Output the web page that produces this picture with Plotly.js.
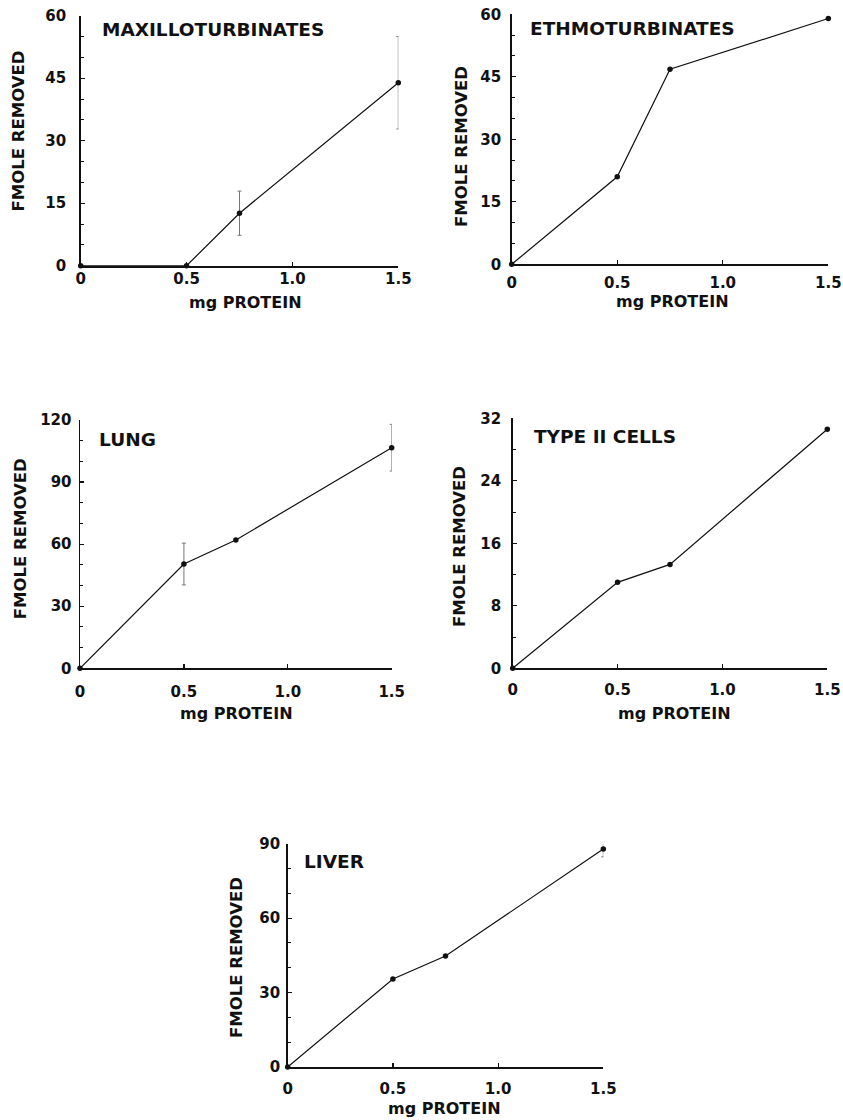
<!DOCTYPE html>
<html>
<head>
<meta charset="utf-8">
<script src="https://cdn.plot.ly/plotly-3.0.1.min.js"></script>
<style>html,body{margin:0;padding:0;background:#fff;}#chart{width:843px;height:1120px;}</style>
</head>
<body>
<div id="chart"></div>
<script>
// ---- data ----
const proteinMg = [0, 0.5, 0.75, 1.5];
const xTickVals = [0, 0.5, 1.0, 1.5];
const xTickText = ['0', '0.5', '1.0', '1.5'];

const panelNames = ['MAXILLOTURBINATES', 'ETHMOTURBINATES', 'LUNG', 'TYPE II CELLS', 'LIVER'];

const maxilloY   = [0, 0, 12.6, 43.9];
const maxilloErr = [0, 0, 5.3, 11.1];
const ethmoY     = [0, 21.0, 46.8, 59.0];
const ethmoErr   = [0, 0, 0, 0];
const lungY      = [0, 50.4, 62.0, 106.6];
const lungErr    = [0, 10.1, 0, 11.3];
const typeIIY    = [0, 11.0, 13.3, 30.6];
const typeIIErr  = [0, 0, 0, 0];
const liverY     = [0, 35.5, 44.7, 87.9];
const liverErr   = [0, 0, 0, 3.2];

const maxilloTicks = [0, 15, 30, 45, 60];
const ethmoTicks   = [0, 15, 30, 45, 60];
const lungTicks    = [0, 30, 60, 90, 120];
const typeIITicks  = [0, 8, 16, 24, 32];
const liverTicks   = [0, 30, 60, 90];

const xTitle = 'mg PROTEIN';
const yTitle = 'FMOLE REMOVED';

// ---- layout geometry (pixels) ----
const W = 843, H = 1120;
const panels = [
  {y: maxilloY, e: maxilloErr, ticks: maxilloTicks, minor: 5,  box: [80.7, 398.3, 15.7, 265.7],
   name: {fx: 19.3, fy: 13.3}, ytl: {dx: -62, dy: -10}, xtl: {dx: 6, dy: 37}, xstand: -2, ystand: 10},
  {y: ethmoY, e: ethmoErr, ticks: ethmoTicks, minor: 5, box: [511.7, 828.3, 14.3, 264.3],
   name: {fx: 16.6, fy: 14.7}, ytl: {dx: -50, dy: 7}, xtl: {dx: 2, dy: 37}, xstand: 4, ystand: 6},
  {y: lungY, e: lungErr, ticks: lungTicks, minor: 10, box: [80, 391.7, 420, 668.3],
   name: {fx: 16.7, fy: 19}, ytl: {dx: -60, dy: -5}, xtl: {dx: 1, dy: 45}, xstand: 9, ystand: 4},
  {y: typeIIY, e: typeIIErr, ticks: typeIITicks, minor: 4, box: [512.7, 827.3, 418.3, 668.3],
   name: {fx: 19, fy: 17.7}, ytl: {dx: -53, dy: 3}, xtl: {dx: 4, dy: 45}, xstand: 7, ystand: 7},
  {y: liverY, e: liverErr, ticks: liverTicks, minor: 10, box: [287.7, 603.3, 843.7, 1067],
   name: {fx: 14, fy: 18}, ytl: {dx: -51, dy: 2}, xtl: {dx: -1, dy: 41}, xstand: 7, ystand: 3}
];

const FONT = 'DejaVu Sans, Liberation Sans, Arial, sans-serif';
const traces = [];
const layout = {
  width: W, height: H,
  margin: {l: 0, r: 0, t: 0, b: 0},
  paper_bgcolor: '#fff', plot_bgcolor: '#fff',
  showlegend: false,
  font: {family: FONT, color: '#111'},
  annotations: []
};

panels.forEach((p, i) => {
  const n = i + 1;
  const xa = n === 1 ? 'x' : 'x' + n;
  const ya = n === 1 ? 'y' : 'y' + n;
  const [x0, x1, y0, y1] = p.box;
  traces.push({
    type: 'scatter', mode: 'lines+markers',
    x: proteinMg, y: p.y,
    xaxis: xa, yaxis: ya,
    cliponaxis: false,
    line: {color: '#111', width: 1.2},
    marker: {color: '#111', size: 5.5},
    error_y: {type: 'data', array: p.e, visible: true, color: '#777', thickness: 1, width: 2}
  });
  const yMax = p.ticks[p.ticks.length - 1];
  layout['xaxis' + (n === 1 ? '' : n)] = {
    domain: [x0 / W, x1 / W], anchor: ya,
    range: [0, 1.5], fixedrange: true,
    showline: true, linecolor: '#111', linewidth: 2,
    ticks: 'inside', ticklen: 4, tickwidth: 1.2, tickcolor: '#111',
    tickvals: xTickVals, ticktext: xTickText,
    ticklabelstandoff: p.xstand,
    tickfont: {family: FONT, size: 15, weight: 'bold', color: '#111'},
    showgrid: false, zeroline: false
  };
  layout['yaxis' + (n === 1 ? '' : n)] = {
    domain: [1 - y1 / H, 1 - y0 / H], anchor: xa,
    range: [0, yMax], fixedrange: true,
    showline: true, linecolor: '#111', linewidth: 1.5,
    ticks: 'inside', ticklen: 4, tickwidth: 1.2, tickcolor: '#111',
    tickvals: p.ticks,
    ticklabelstandoff: p.ystand,
    minor: {dtick: p.minor, ticks: 'inside', ticklen: 3, tickcolor: '#111', tickwidth: 1},
    tickfont: {family: FONT, size: 15, weight: 'bold', color: '#111'},
    showgrid: false, zeroline: false
  };
  // panel name
  layout.annotations.push({
    text: panelNames[i], showarrow: false,
    xref: xa + ' domain', yref: ya + ' domain',
    x: p.name.fx / (x1 - x0), y: 1 - p.name.fy / (y1 - y0),
    xanchor: 'left', yanchor: 'middle',
    font: {family: FONT, size: 18.5, weight: 'bold', color: '#111'}
  });
  // y title
  layout.annotations.push({
    text: yTitle, showarrow: false, textangle: -90,
    xref: xa + ' domain', yref: ya + ' domain',
    x: 0, y: 0.5, xshift: p.ytl.dx, yshift: -p.ytl.dy,
    xanchor: 'center', yanchor: 'middle',
    font: {family: FONT, size: 16.5, weight: 'bold', color: '#111'}
  });
  // x title
  layout.annotations.push({
    text: xTitle, showarrow: false,
    xref: xa + ' domain', yref: ya + ' domain',
    x: 0.5, y: 0, xshift: p.xtl.dx, yshift: -p.xtl.dy,
    xanchor: 'center', yanchor: 'middle',
    font: {family: FONT, size: 16, weight: 'bold', color: '#111'}
  });
});

Plotly.newPlot('chart', traces, layout, {staticPlot: true, displayModeBar: false});
</script>
</body>
</html>
